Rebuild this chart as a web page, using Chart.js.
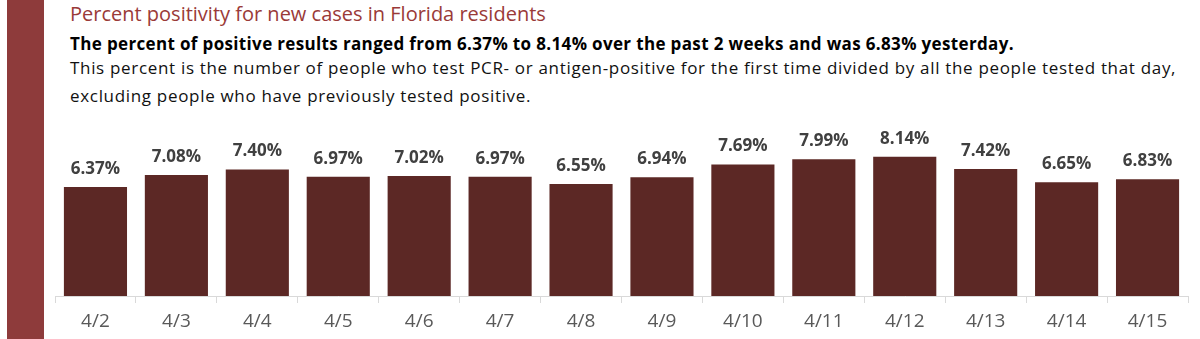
<!DOCTYPE html>
<html>
<head>
<meta charset="utf-8">
<script src="https://cdn.jsdelivr.net/npm/chart.js@4"></script>
<style>
  body { margin: 0; width: 1200px; height: 339px; background: #fff; overflow: hidden; position: relative; font-family: "Open Sans", "Liberation Sans", sans-serif; }
  .strip { position: absolute; left: 7px; top: 0; width: 37px; height: 339px; background: #8e3b3b; }
  .txt { position: absolute; left: 70px; white-space: nowrap; }
  #titulo { top: 0px; font-size: 20px; color: #9a3a38; }
  #sub { top: 32px; font-size: 17px; font-weight: bold; color: #000; letter-spacing: 0.35px; }
  #desc1 { top: 56px; font-size: 17px; color: #111; letter-spacing: 0.68px; }
  #desc2 { top: 84px; font-size: 17px; color: #111; letter-spacing: 0.68px; }
  .GraficoPositividade { position: absolute; left: 0; top: 110px; width: 1200px; height: 229px; }
</style>
</head>
<body>
<div class="strip"></div>
<div class="txt" id="titulo">Percent positivity for new cases in Florida residents</div>
<div class="txt" id="sub">The percent of positive results ranged from 6.37% to 8.14% over the past 2 weeks and was 6.83% yesterday.</div>
<div class="txt" id="desc1">This percent is the number of people who test PCR- or antigen-positive for the first time divided by all the people tested that day,</div>
<div class="txt" id="desc2">excluding people who have previously tested positive.</div>
<div class="GraficoPositividade">
  <canvas id="GraficoPositividade" style="width:1200px; height:229px"></canvas>
</div>
<script>
var dias = ['4/2', '4/3', '4/4', '4/5', '4/6', '4/7', '4/8', '4/9', '4/10', '4/11', '4/12', '4/13', '4/14', '4/15'];
var positividade = [6.37, 7.08, 7.40, 6.97, 7.02, 6.97, 6.55, 6.94, 7.69, 7.99, 8.14, 7.42, 6.65, 6.83];

// rotulos em cima das barras
var rotulos = {
    id: 'rotulos',
    afterDatasetsDraw: function (chart) {
        var ctx = chart.ctx;
        var meta = chart.getDatasetMeta(0);
        ctx.save();
        ctx.font = 'bold 17px "Open Sans", "Liberation Sans", sans-serif';
        ctx.fillStyle = '#404040';
        ctx.textAlign = 'center';
        ctx.textBaseline = 'middle';
        meta.data.forEach(function (barra, i) {
            ctx.fillText(positividade[i].toFixed(2) + '%', barra.x, barra.y - 18);
        });
        ctx.restore();
    }
};

var ctx = document.getElementById('GraficoPositividade').getContext('2d');

var grafico = new Chart(ctx, {
    type: 'bar',
    data: {
        labels: dias,
        datasets: [
            {
                label: 'Percent positivity',
                backgroundColor: '#5c2825',
                data: positividade,
                barPercentage: 0.78,
                categoryPercentage: 1
            }
        ]
    },
    options: {
        responsive: false,
        animation: false,
        layout: { padding: { left: 55, right: 12, top: 15, bottom: 0 } },
        plugins: {
            legend: { display: false },
            tooltip: { enabled: false }
        },
        scales: {
            y: {
                display: false,
                min: 0,
                max: 10
            },
            x: {
                afterFit: function (s) { s.height = 43; },
                grid: {
                    display: true,
                    drawOnChartArea: false,
                    drawTicks: true,
                    tickLength: 7,
                    color: '#d9d9d9',
                    offset: true
                },
                border: { display: true, color: '#d9d9d9' },
                ticks: {
                    color: '#595959',
                    font: { size: 19, family: '"Open Sans", "Liberation Sans", sans-serif' },
                    padding: 7,
                    maxRotation: 0,
                    autoSkip: false
                }
            }
        }
    },
    plugins: [rotulos]
});
</script>
</body>
</html>
